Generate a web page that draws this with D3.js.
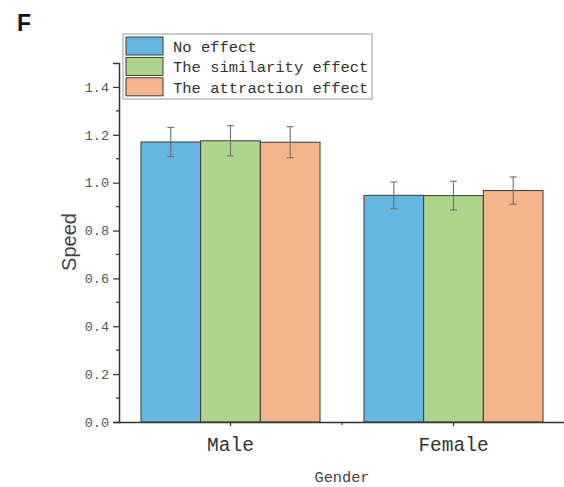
<!DOCTYPE html>
<html>
<head>
<meta charset="utf-8">
<script src="https://cdn.jsdelivr.net/npm/d3@7"></script>
<style>
  body { margin: 0; background: #fff; }
  svg { display: block; }
</style>
</head>
<body>
<svg width="564" height="487"></svg>
<script>
// Data
const genders = ["Male", "Female"];
const effects = ["No effect", "The similarity effect", "The attraction effect"];
const colors = ["#67b6e1", "#afd48e", "#f5b58c"];
const noEffect = [1.170, 0.947];
const similarity = [1.175, 0.946];
const attraction = [1.169, 0.967];
const noEffectErr = [0.061, 0.056];
const similarityErr = [0.063, 0.060];
const attractionErr = [0.065, 0.057];
const yTicks = [0, 0.2, 0.4, 0.6, 0.8, 1.0, 1.2, 1.4];

const seriesValues = [noEffect, similarity, attraction];
const seriesErrs = [noEffectErr, similarityErr, attractionErr];

const svg = d3.select("svg");
const monoFont = "'Liberation Mono', 'DejaVu Sans Mono', monospace";

// scales
const x = d3.scaleBand()
    .domain(genders)
    .range([119, 565])
    .paddingInner(0.197)
    .paddingOuter(0.0985);

const xSub = d3.scaleBand()
    .domain(effects)
    .range([0, x.bandwidth()]);

const y = d3.scaleLinear()
    .domain([0, 1.5])
    .range([422, 63]);

// rows for the bars
const rows = [];
genders.forEach((g, i) => {
    effects.forEach((e, j) => {
        rows.push({ gender: g, effect: e, color: colors[j],
            value: seriesValues[j][i], err: seriesErrs[j][i] });
    });
});

// bars
svg.append("g")
    .selectAll("rect")
    .data(rows)
    .join("rect")
        .attr("x", d => x(d.gender) + xSub(d.effect))
        .attr("y", d => y(d.value))
        .attr("width", xSub.bandwidth())
        .attr("height", d => y(0) - y(d.value))
        .attr("fill", d => d.color)
        .attr("stroke", "#3a3a3a")
        .attr("stroke-width", 1);

// error bars
const errG = svg.append("g")
    .attr("stroke", "#6f6f6f")
    .attr("stroke-width", 1.1);
rows.forEach(d => {
    const cx = x(d.gender) + xSub(d.effect) + xSub.bandwidth() / 2;
    const y1 = y(d.value + d.err), y2 = y(d.value - d.err);
    errG.append("line").attr("x1", cx).attr("x2", cx).attr("y1", y1).attr("y2", y2);
    errG.append("line").attr("x1", cx - 3.5).attr("x2", cx + 3.5).attr("y1", y1).attr("y2", y1);
    errG.append("line").attr("x1", cx - 3.5).attr("x2", cx + 3.5).attr("y1", y2).attr("y2", y2);
});

// y axis
const yAxis = svg.append("g")
    .attr("transform", "translate(119,0)")
    .call(d3.axisLeft(y).tickValues(yTicks).tickFormat(d3.format(".1f")).tickSize(6).tickPadding(4));
// minor ticks
svg.append("g")
    .selectAll("line")
    .data([0.1, 0.3, 0.5, 0.7, 0.9, 1.1, 1.3])
    .join("line")
        .attr("x1", 116).attr("x2", 119)
        .attr("y1", d => y(d)).attr("y2", d => y(d))
        .attr("stroke", "#333").attr("stroke-width", 1.2);

yAxis.select(".domain").attr("stroke", "#333").attr("stroke-width", 1.5);
yAxis.selectAll(".tick line").attr("stroke", "#333").attr("stroke-width", 1.2);
yAxis.selectAll(".tick text")
    .attr("font-family", monoFont)
    .attr("font-size", 13.5)
    .attr("fill", "#555");

// x axis
const xAxis = svg.append("g")
    .attr("transform", "translate(0,422)")
    .call(d3.axisBottom(x).tickSize(4).tickPadding(11).tickSizeOuter(0));
xAxis.select(".domain").attr("stroke", "#333").attr("stroke-width", 1.5);
xAxis.selectAll(".tick line").attr("stroke", "#333").attr("stroke-width", 1.2);
xAxis.selectAll(".tick text")
    .attr("font-family", monoFont)
    .attr("font-size", 19.5)
    .attr("fill", "#333");
// boundary tick between groups
svg.append("line")
    .attr("x1", x.range()[0] + x.step()).attr("x2", x.range()[0] + x.step())
    .attr("y1", 422).attr("y2", 425)
    .attr("stroke", "#333").attr("stroke-width", 1.2);

// axis titles
svg.append("text")
    .attr("x", 342).attr("y", 482)
    .attr("text-anchor", "middle")
    .attr("font-family", monoFont)
    .attr("font-size", 15.3)
    .attr("fill", "#444")
    .text("Gender");

svg.append("text")
    .attr("transform", "translate(76,242) rotate(-90)")
    .attr("text-anchor", "middle")
    .attr("font-family", "'Liberation Sans', Arial, sans-serif")
    .attr("font-size", 20)
    .attr("fill", "#444")
    .text("Speed");

// panel letter
svg.append("text")
    .attr("x", 17).attr("y", 31)
    .attr("font-family", "'Liberation Sans', Arial, sans-serif")
    .attr("font-weight", "bold")
    .attr("font-size", 23)
    .attr("fill", "#111")
    .text("F");

// legend
const legend = svg.append("g");
legend.append("rect")
    .attr("x", 123).attr("y", 34)
    .attr("width", 249).attr("height", 65)
    .attr("fill", "#fff")
    .attr("stroke", "#999")
    .attr("stroke-width", 1);

const items = legend.selectAll("g.item")
    .data(effects)
    .join("g")
        .attr("class", "item")
        .attr("transform", (d, i) => `translate(126,${37 + i * 20.4})`);
items.append("rect")
    .attr("width", 37).attr("height", 18)
    .attr("fill", (d, i) => colors[i])
    .attr("stroke", "#3a3a3a")
    .attr("stroke-width", 1);
items.append("text")
    .attr("x", 47).attr("y", 15)
    .attr("font-family", monoFont)
    .attr("font-size", 15.5)
    .attr("fill", "#333")
    .text(d => d);
</script>
</body>
</html>
